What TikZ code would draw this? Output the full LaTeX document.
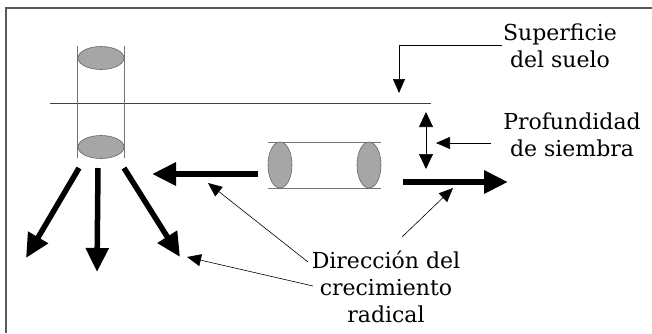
\documentclass[tikz,border=0pt]{standalone}
\usepackage{fontspec}
\setmainfont{DejaVu Serif}
\usetikzlibrary{arrows.meta}
\begin{document}
\begin{tikzpicture}[x=1pt,y=-1pt,
  frameline/.style={draw=black!65,line width=1.4pt},
  soil/.style={draw=black!75,line width=0.8pt},
  cylside/.style={draw=black!55,line width=0.7pt},
  seed/.style={draw=black!60,fill=black!35,line width=0.6pt},
  thick arrow/.style={line width=6pt,-{Triangle[length=24pt,width=22pt]}},
  root arrow/.style={line width=5.5pt,-{Triangle[length=24pt,width=22pt]}},
  pointer/.style={draw=black!70,line width=0.6pt,-{Triangle[length=14pt,width=12pt]},color=black},
  label/.style={align=center,font=\fontsize{22}{27}\selectfont,inner sep=0pt}]
\useasboundingbox (0,0) rectangle (652,333);
\fill[white] (0,0) rectangle (652,333);

% border (top and left edges)
\draw[frameline] (652,8) -- (6,8) -- (6,333);

% soil surface
\coordinate (soilL) at (50,103);
\coordinate (soilR) at (431,103);
\draw[soil] (soilL) -- (soilR);

% vertical seed column
\coordinate (vTL) at (77,46);  \coordinate (vBL) at (77,158);
\coordinate (vTR) at (124,46); \coordinate (vBR) at (124,158);
\draw[cylside] (vTL) -- (vBL);
\draw[cylside] (vTR) -- (vBR);
\draw[seed] (101,58) ellipse [x radius=23pt,y radius=11.5pt];
\draw[seed] (101,147) ellipse [x radius=23pt,y radius=11.5pt];

% horizontal seed column
\coordinate (hTL) at (268,142); \coordinate (hTR) at (381,142);
\coordinate (hBL) at (268,188); \coordinate (hBR) at (381,188);
\draw[cylside] (hTL) -- (hTR);
\draw[cylside] (hBL) -- (hBR);
\draw[seed] (280,165) ellipse [x radius=12pt,y radius=23pt];
\draw[seed] (369,165) ellipse [x radius=12pt,y radius=23pt];

% radical growth arrows
\coordinate (r1s) at (79,168);  \coordinate (r1e) at (26,258);
\coordinate (r2s) at (98,168);  \coordinate (r2e) at (97,272);
\coordinate (r3s) at (124,168); \coordinate (r3e) at (180,257);
\draw[root arrow] (r1s) -- (r1e);
\draw[root arrow] (r2s) -- (r2e);
\draw[root arrow] (r3s) -- (r3e);

\coordinate (hls) at (258,174); \coordinate (hle) at (152,174);
\coordinate (hrs) at (403,182); \coordinate (hre) at (508,182);
\draw[thick arrow] (hls) -- (hle);
\draw[thick arrow] (hrs) -- (hre);

% labels
\node[label] (sup) at (560,46) {Superficie\\del suelo};
\node[label] (prof) at (572,135) {Profundidad\\de siembra};
\node[label] (dir) at (386,287) {Dirección del\\crecimiento\\radical};

% soil surface pointer
\coordinate (supA) at (502,45);
\coordinate (supB) at (399,45);
\coordinate (supT) at (399,93);
\draw[pointer] (supA) -- (supB) -- (supT);

% sowing depth
\coordinate (dTop) at (426,112);
\coordinate (dBot) at (426,169);
\draw[black,line width=0.7pt,{Triangle[length=15pt,width=14pt]}-{Triangle[length=15pt,width=14pt]}] (dTop) -- (dBot);
\coordinate (pA) at (491,143);
\coordinate (pT) at (436,143);
\draw[pointer] (pA) -- (pT);

% growth direction pointers
\coordinate (d1s) at (308,262); \coordinate (d1e) at (208,183);
\coordinate (d2s) at (402,237); \coordinate (d2e) at (453,188);
\coordinate (d3s) at (313,286); \coordinate (d3e) at (187,257);
\draw[pointer] (d1s) -- (d1e);
\draw[pointer] (d2s) -- (d2e);
\draw[pointer] (d3s) -- (d3e);
\end{tikzpicture}
\end{document}
